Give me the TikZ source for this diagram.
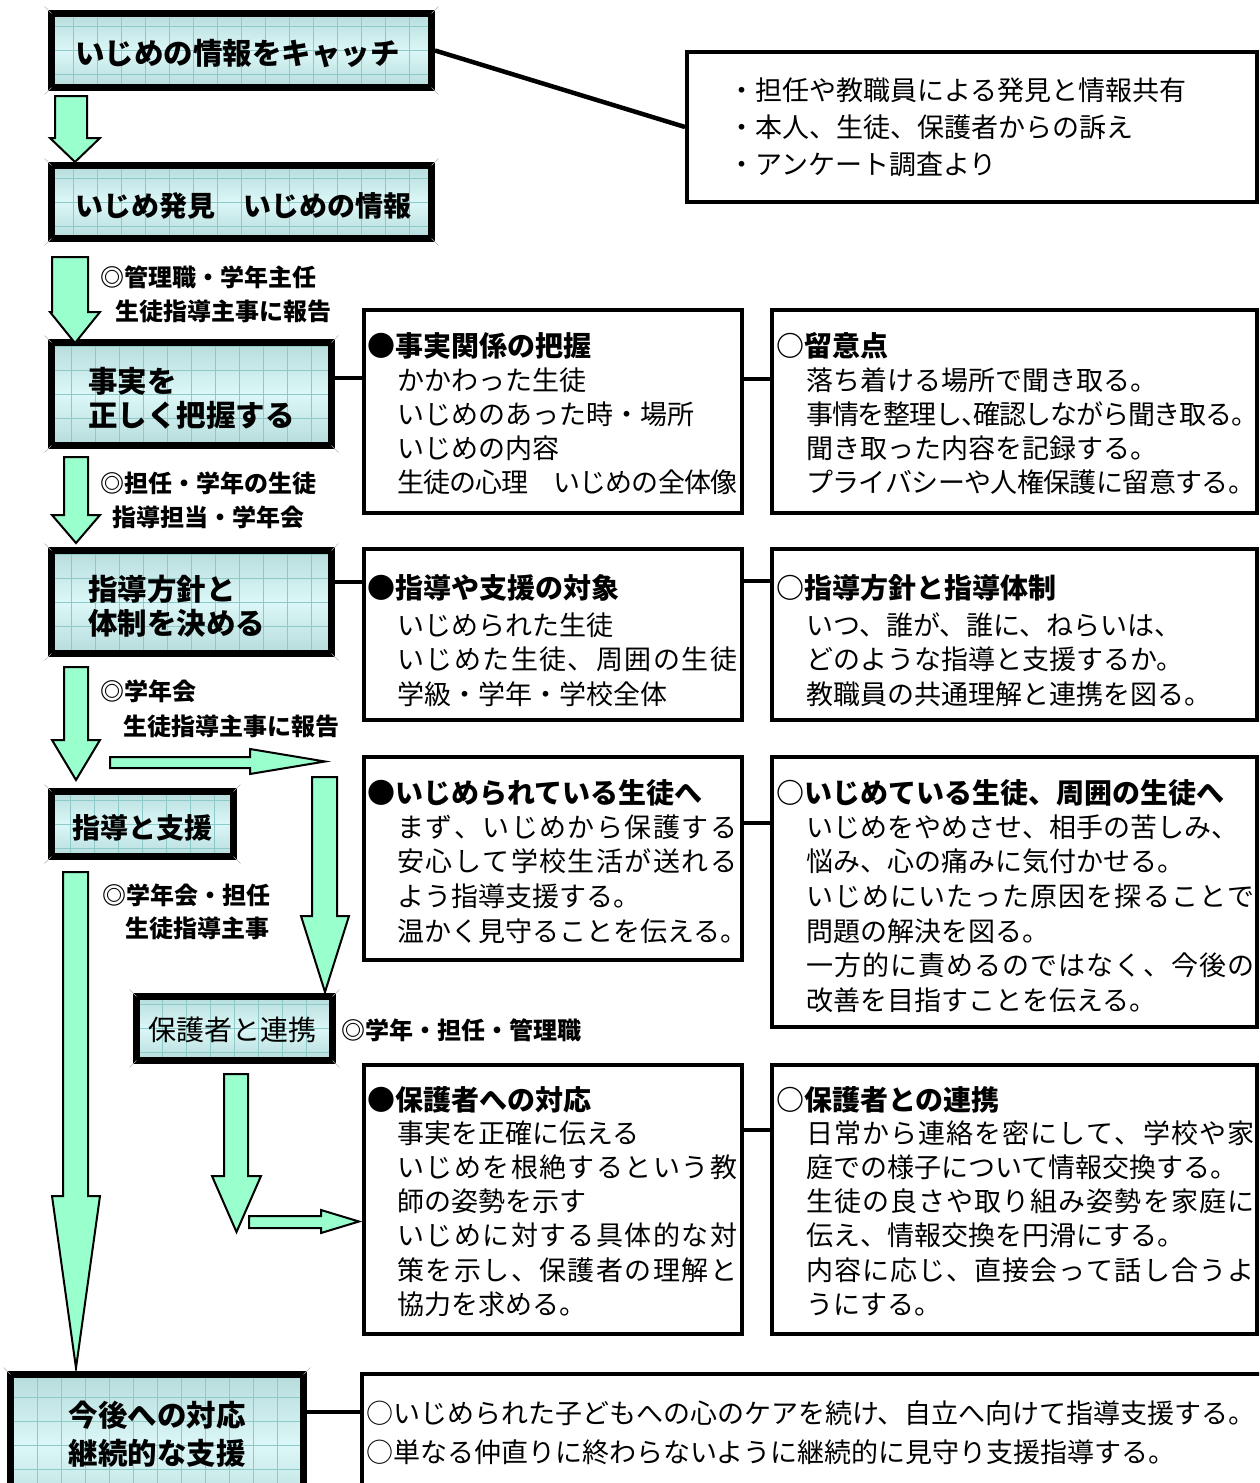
\documentclass[tikz,border=0pt]{standalone}
\usepackage{fontspec}
\setmainfont{Noto Sans CJK JP}
\definecolor{mint}{HTML}{99FFCC}
\definecolor{tealA}{HTML}{B6DCDC}
\definecolor{tealB}{HTML}{DCF7F7}
\definecolor{tealG}{HTML}{8CCACA}
\makeatletter
\def\spr#1{\spr@a#1\@nil}
\def\spr@a#1{\ifx\@nil#1\else#1\expandafter\spr@b\fi}
\def\spr@b#1{\ifx\@nil#1\else\hskip0pt plus 1fil minus 2pt\relax#1\expandafter\spr@b\fi}
\makeatother
\newcommand\fl[2]{\hbox to #1{#2}}
\newcommand\hw[1]{\makebox[13.5pt][l]{#1}}
\tikzset{
 lbox/.style={draw=black, line width=7pt, inner sep=0pt, top color=tealA, bottom color=tealA, middle color=tealB,
   path picture={\draw[tealG, line width=0.7pt] (path picture bounding box.south west) grid[step=24pt] (path picture bounding box.north east);}},
 rbox/.style={draw=black, line width=4pt, fill=white, inner sep=0pt},
 conn/.style={line width=4.5pt},
 blk/.style={draw=black, fill=mint, line width=2pt, line join=miter},
 body/.style={inner sep=0pt, anchor=west, font=\fontsize{27}{32}\selectfont, text height=23.76pt, text depth=3.24pt},
 head/.style={inner sep=0pt, anchor=west, font=\bfseries\fontsize{28}{33}\selectfont, text height=24.64pt, text depth=3.36pt},
 lab/.style={inner sep=0pt, anchor=west, font=\bfseries\fontsize{29.5}{35}\selectfont, text height=25.96pt, text depth=3.54pt},
 side/.style={inner sep=0pt, anchor=west, font=\bfseries\fontsize{24}{28}\selectfont, text height=21.12pt, text depth=2.88pt},
}
\newcommand\txtblock[6]{%
 \foreach \lx [count=\ii] in {#6} {\node[#2] (#1-\ii) at (#3,{#4+(\ii-1)*(#5)}) {\lx};}}
\newcommand\varrow[7]{\draw[blk] (#1,#3) -- (#2,#3) -- (#2,#4) -- (#6,#4) -- ({(#5+#6)/2},#7) -- (#5,#4) -- (#1,#4) -- cycle;}
\newcommand\harrow[7]{\draw[blk] (#1,#3) -- (#2,#3) -- (#2,#5) -- (#7,{(#5+#6)/2}) -- (#2,#6) -- (#2,#4) -- (#1,#4) -- cycle;}
\newcommand\bevel[1]{%
 \foreach \an/\dx/\dy in {north west/-3.5/3.5, north east/3.5/3.5, south west/-3.5/-3.5, south east/3.5/-3.5}
 {\draw[gray!60, line width=0.6pt] ([shift={({\dx*1pt},{\dy*1pt})}]#1.\an) -- ([shift={({0-\dx*1pt},{0-\dy*1pt})}]#1.\an);}}
\begin{document}
\begin{tikzpicture}[x=1pt,y=-1pt]
\path[use as bounding box] (0,0) rectangle (1259,1483);
\clip (0,0) rectangle (1259,1483);
% ---------- boxes (shapes only) ----------
\node[lbox, minimum width=380pt, minimum height=74pt] (B1) at (241.5,50.5) {};
\node[lbox, minimum width=380pt, minimum height=73pt] (B2) at (241.5,202) {};
\node[lbox, minimum width=280pt, minimum height=103pt] (B3) at (191.5,394) {};
\node[lbox, minimum width=280pt, minimum height=103pt] (B4) at (191.5,602) {};
\node[lbox, minimum width=182pt, minimum height=65pt] (B5) at (142.5,824) {};
\node[lbox, minimum width=196pt, minimum height=64pt] (B6) at (234.5,1028.5) {};
\node[lbox, minimum width=293pt, minimum height=142pt] (B7) at (157,1445.5) {};
\node[rbox, minimum width=570pt, minimum height=150pt] (R0) at (972,127) {};
\node[rbox, minimum width=378pt, minimum height=203pt] (R1a) at (553,411.5) {};
\node[rbox, minimum width=485pt, minimum height=203pt] (R1b) at (1014.5,411.5) {};
\node[rbox, minimum width=378pt, minimum height=171pt] (R2a) at (553,634.5) {};
\node[rbox, minimum width=485pt, minimum height=171pt] (R2b) at (1014.5,634.5) {};
\node[rbox, minimum width=378pt, minimum height=203pt] (R3a) at (553,858.5) {};
\node[rbox, minimum width=485pt, minimum height=270pt] (R3b) at (1014.5,892) {};
\node[rbox, minimum width=378pt, minimum height=269pt] (R4a) at (553,1199.5) {};
\node[rbox, minimum width=485pt, minimum height=269pt] (R4b) at (1014.5,1199.5) {};
\node[rbox, minimum width=911pt, minimum height=134pt] (R5) at (817.5,1441) {};
\foreach \b in {B1,B2,B3,B4,B5,B6,B7} {\bevel{\b}}
% ---------- connectors ----------
\draw[conn] (B1.east) -- (R0.west);
\draw[conn] (B3.east |- 0,378) -- (R1a.west |- 0,378);
\draw[conn] (R1a.east |- 0,379) -- (R1b.west |- 0,379);
\draw[conn] (B4.east |- 0,582) -- (R2a.west |- 0,582);
\draw[conn] (R2a.east |- 0,581) -- (R2b.west |- 0,581);
\draw[conn] (R3a.east |- 0,823) -- (R3b.west |- 0,823);
\draw[conn] (R4a.east |- 0,1130) -- (R4b.west |- 0,1130);
\draw[conn] (B7.east |- 0,1412) -- (R5.west |- 0,1412);
% ---------- block arrows ----------
\varrow{55}{87}{96}{138}{50}{100}{162}
\varrow{52}{88}{257}{312}{50}{100}{343}
\varrow{64}{88}{457}{515}{52}{100}{543}
\varrow{64}{88}{667}{740}{52}{100}{780}
\harrow{110}{250}{757}{768}{749}{774}{325}
\varrow{312}{337}{777}{916}{301}{349}{992}
\varrow{224}{248}{1074}{1176}{212}{261}{1232}
\harrow{249}{321}{1216}{1228}{1210}{1233}{359}
\varrow{63}{88}{872}{1196}{52}{100}{1368}
% ---------- left box labels ----------
\node[lab] (tB1) at (75,53) {いじめの情報をキャッチ};
\node[lab, font=\bfseries\fontsize{28}{33}\selectfont] (tB2) at (75,205) {いじめ発見　いじめの情報};
\node[lab] (tB3a) at (88,381) {事実を};
\node[lab] (tB3b) at (88,415) {正しく把握する};
\node[lab] (tB4a) at (88,589) {指導方針と};
\node[lab] (tB4b) at (88,623) {体制を決める};
\node[lab, font=\bfseries\fontsize{28}{33}\selectfont] (tB5) at (72,827) {指導と支援};
\node[lab, font=\fontsize{28}{33}\selectfont] (tB6) at (148,1029) {保護者と連携};
\node[lab, anchor=center] (tB7a) at (157,1415) {今後への対応};
\node[lab, anchor=center] (tB7b) at (157,1453) {継続的な支援};
% ---------- side labels ----------
\node[side] (s1a) at (100,277) {◎管理職・学年主任};
\node[side] (s1b) at (115,311) {生徒指導主事に報告};
\node[side] (s2a) at (100,483) {◎担任・学年の生徒};
\node[side] (s2b) at (112,517) {指導担当・学年会};
\node[side] (s3a) at (100,691) {◎学年会};
\node[side] (s3b) at (123,726) {生徒指導主事に報告};
\node[side] (s4a) at (102,895) {◎学年会・担任};
\node[side] (s4b) at (125,928) {生徒指導主事};
\node[side] (s5) at (341,1030) {◎学年・担任・管理職};
% ---------- right box texts ----------
\txtblock{r0}{body}{728}{90}{37}{・担任や教職員による発見と情報共有,・本人、生徒、保護者からの訴え,・アンケート調査より}
\node[head] (h1a) at (367,346) {●事実関係の把握};
\txtblock{r1a}{body}{397}{380}{34.2}{かかわった生徒,いじめのあった時・場所,いじめの内容,\fl{340pt}{\spr{生徒の心理　いじめの全体像}}}
\node[head] (h1b) at (776,346) {○留意点};
\txtblock{r1b}{body}{806}{380}{34.2}{落ち着ける場所で聞き取る。,\fl{452pt}{\spr{事情を整理し{\hw{、}}確認しながら聞き取る。}},聞き取った内容を記録する。,\fl{449pt}{\spr{プライバシーや人権保護に留意する。}}}
\node[head] (h2a) at (367,588) {●指導や支援の対象};
\txtblock{r2a}{body}{397}{625}{34.5}{いじめられた生徒,\fl{340pt}{\spr{いじめた生徒、周囲の生徒}},学級・学年・学校全体}
\node[head] (h2b) at (776,588) {○指導方針と指導体制};
\txtblock{r2b}{body}{806}{625}{34.5}{いつ、誰が、誰に、ねらいは、,どのような指導と支援するか。,教職員の共通理解と連携を図る。}
\node[head] (h3a) at (367,793) {●いじめられている生徒へ};
\txtblock{r3a}{body}{397}{827}{34.6}{\fl{340pt}{\spr{まず、いじめから保護する}},\fl{340pt}{\spr{安心して学校生活が送れる}},よう指導支援する。,温かく見守ることを伝える。}
\node[head] (h3b) at (776,793) {○いじめている生徒、周囲の生徒へ};
\txtblock{r3b}{body}{806}{827}{34.6}{いじめをやめさせ、相手の苦しみ、,悩み、心の痛みに気付かせる。,\fl{448pt}{\spr{いじめにいたった原因を探ることで}},問題の解決を図る。,\fl{448pt}{\spr{一方的に責めるのではなく、今後の}},改善を目指すことを伝える。}
\node[head] (h4a) at (367,1100) {●保護者への対応};
\txtblock{r4a}{body}{397}{1133}{34.2}{事実を正確に伝える,\fl{340pt}{\spr{いじめを根絶するという教}},師の姿勢を示す,\fl{340pt}{\spr{いじめに対する具体的な対}},\fl{340pt}{\spr{策を示し、保護者の理解と}},協力を求める。}
\node[head] (h4b) at (776,1100) {○保護者との連携};
\txtblock{r4b}{body}{806}{1133}{34.2}{\fl{448pt}{\spr{日常から連絡を密にして、学校や家}},庭での様子について情報交換する。,\fl{448pt}{\spr{生徒の良さや取り組み姿勢を家庭に}},伝え、情報交換を円滑にする。,\fl{448pt}{\spr{内容に応じ、直接会って話し合うよ}},うにする。}
\txtblock{r5}{body}{366}{1413}{39}{○いじめられた子どもへの心のケアを続け、自立へ向けて指導支援する。,○単なる仲直りに終わらないように継続的に見守り支援指導する。}
\end{tikzpicture}
\end{document}
